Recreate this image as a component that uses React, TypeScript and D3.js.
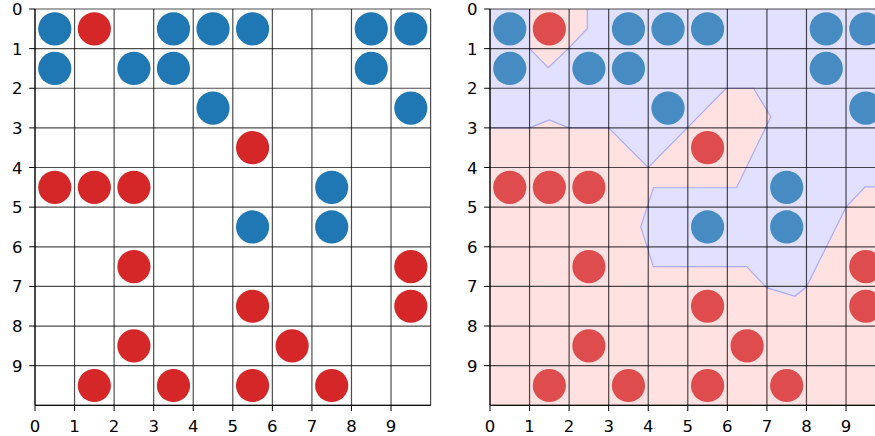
import React from 'react';
import * as d3 from 'd3';

const tickValues = [0, 1, 2, 3, 4, 5, 6, 7, 8, 9];
const gridValues = [0, 1, 2, 3, 4, 5, 6, 7, 8, 9, 10];

const blueX = [0.5, 3.5, 4.5, 5.5, 8.5, 9.5, 0.5, 2.5, 3.5, 8.5, 4.5, 9.5, 7.5, 5.5, 7.5];
const blueY = [0.5, 0.5, 0.5, 0.5, 0.5, 0.5, 1.5, 1.5, 1.5, 1.5, 2.5, 2.5, 4.5, 5.5, 5.5];
const redX = [1.5, 5.5, 0.5, 1.5, 2.5, 2.5, 9.5, 5.5, 9.5, 2.5, 6.5, 1.5, 3.5, 5.5, 7.5];
const redY = [0.5, 3.5, 4.5, 4.5, 4.5, 6.5, 6.5, 7.5, 7.5, 8.5, 8.5, 9.5, 9.5, 9.5, 9.5];

// decision boundary: small notch near the top
const notchX = [1, 1, 1.47, 1.98, 2.46, 2.46];
const notchY = [0, 1, 1.48, 1.0, 0.49, 0];
// main boundary from left edge to right edge
const mainX = [0, 1, 1.5, 2, 3, 4, 5.97, 6.66, 7.1, 6.23, 4.13, 3.81, 4.13, 6.49, 6.99, 7.71, 8.0, 9.0, 9.48, 10];
const mainY = [3, 3, 2.8, 3, 3, 4, 2.0, 2.0, 2.72, 4.51, 4.51, 5.5, 6.5, 6.5, 7.03, 7.25, 7.01, 5.0, 4.49, 4.49];

const UNIT_W = 39.56;
const UNIT_H = 39.63;
const TOP = 9;
const LEFTS = [35, 490];
const FONT = '"DejaVu Sans", sans-serif';
const FS = 16.5;
const TICK = 5.8;

function Panel({ left, classified }: { left: number; classified: boolean }) {
  const x = d3.scaleLinear().domain([0, 10]).range([left, left + 10 * UNIT_W]);
  const y = d3.scaleLinear().domain([0, 10]).range([TOP, TOP + 10 * UNIT_H]);
  const line = d3.line<[number, number]>().x((d) => x(d[0])).y((d) => y(d[1]));
  const notch: [number, number][] = notchX.map((v, i) => [v, notchY[i]]);
  const main: [number, number][] = mainX.map((v, i) => [v, mainY[i]]);
  const bluePoly: [number, number][] = [[0, 0], ...notch, [10, 0], ...main.slice().reverse()];
  const blueC = classified ? 'rgb(70,140,195)' : '#1f77b4';
  const redC = classified ? 'rgb(222,76,77)' : '#d62728';
  const x0 = x(0), x1 = x(10), y0 = y(0), y1 = y(10);
  return (
    <g>
      {classified && (
        <g>
          <rect x={x0} y={y0} width={x1 - x0} height={y1 - y0} fill="rgb(255,225,225)" />
          <path d={line(bluePoly) + 'Z'} fill="rgb(225,225,255)" />
          <path d={line(notch) || ''} fill="none" stroke="#aaaaff" strokeWidth={1.2} />
          <path d={line(main) || ''} fill="none" stroke="#aaaaff" strokeWidth={1.2} />
        </g>
      )}
      {gridValues.map((g) => (
        <line key={'gx' + g} x1={x(g)} x2={x(g)} y1={y0} y2={y1} stroke="#000" strokeOpacity={0.7} strokeWidth={1.2} />
      ))}
      {gridValues.map((g) => (
        <line key={'gy' + g} x1={x0} x2={x1} y1={y(g)} y2={y(g)} stroke="#000" strokeOpacity={0.7} strokeWidth={1.2} />
      ))}
      <line x1={x0} x2={x0} y1={y0} y2={y1} stroke="#000" strokeWidth={1} />
      <line x1={x0} x2={x1} y1={y1} y2={y1} stroke="#000" strokeWidth={1} />
      {blueX.map((v, i) => (
        <circle key={'b' + i} cx={x(v)} cy={y(blueY[i])} r={16.6} fill={blueC} />
      ))}
      {redX.map((v, i) => (
        <circle key={'r' + i} cx={x(v)} cy={y(redY[i])} r={16.6} fill={redC} />
      ))}
      {tickValues.map((t) => (
        <g key={'xt' + t}>
          <line x1={x(t)} x2={x(t)} y1={y1} y2={y1 + TICK} stroke="#000" strokeWidth={1} />
          <text x={x(t)} y={y1 + 26.8} textAnchor="middle" fontFamily={FONT} fontSize={FS} fill="#000">{t}</text>
        </g>
      ))}
      {tickValues.map((t) => (
        <g key={'yt' + t}>
          <line x1={x0 - TICK} x2={x0} y1={y(t)} y2={y(t)} stroke="#000" strokeWidth={1} />
          <text x={x0 - 12.5} y={y(t) + 6} textAnchor="end" fontFamily={FONT} fontSize={FS} fill="#000">{t}</text>
        </g>
      ))}
    </g>
  );
}

export default function App() {
  return (
    <svg width={875} height={436} style={{ position: 'absolute', left: 0, top: 0, background: '#fff' }}>
      <rect x={0} y={0} width={875} height={436} fill="#fff" />
      <Panel left={LEFTS[0]} classified={false} />
      <Panel left={LEFTS[1]} classified={true} />
    </svg>
  );
}
